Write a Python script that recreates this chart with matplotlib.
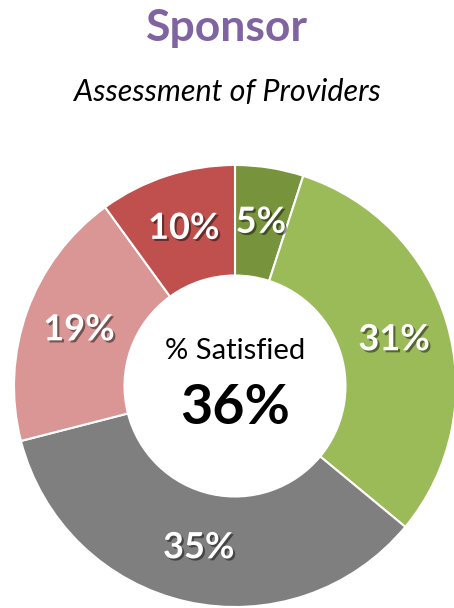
import matplotlib.pyplot as plt
import matplotlib.patheffects as pe

plt.rcParams['font.family'] = ['Lato', 'DejaVu Sans']

labels = ['Very satisfied', 'Satisfied', 'Neutral', 'Dissatisfied', 'Very dissatisfied']
values = [5, 31, 35, 19, 10]
colors = ['#77933C', '#9BBB59', '#7F7F7F', '#D99694', '#C0504D']
satisfied = 36

W, H = 454, 608
fig = plt.figure(figsize=(W / 100, H / 100), dpi=100)

# donut: centre (235, 386) px, radius 221 px
cx, cy, r = 235, 386, 221
ax = fig.add_axes([(cx - r) / W, (H - cy - r) / H, 2 * r / W, 2 * r / H])
wedges, texts, autotexts = ax.pie(
    values, colors=colors, startangle=90, counterclock=False,
    radius=1, autopct='%d%%', pctdistance=0.75,
    wedgeprops=dict(width=0.5, edgecolor='white', linewidth=1.5),
    textprops=dict(color='white', fontsize=26, fontweight='bold'))
for t in autotexts:
    t.set_path_effects([pe.withSimplePatchShadow(offset=(1.5, -1.5), shadow_rgbFace='black', alpha=0.45)])
ax.set_xlim(-1, 1)
ax.set_ylim(-1, 1)
ax.set_aspect('equal')
ax.axis('off')

ax.text(0, 0.16, '% Satisfied', ha='center', va='center', fontsize=21, color='black')
ax.text(0, -0.1, f'{satisfied}%', ha='center', va='center', fontsize=40, fontweight='bold', color='black')

fig.text(0.5, 1 - 28 / H, 'Sponsor', ha='center', va='center', fontsize=32, fontweight='bold', color='#8064A2')
fig.text(0.5, 1 - 92 / H, 'Assessment of Providers', ha='center', va='center', fontsize=22, style='italic', color='black')

fig.savefig('out.png', dpi=100)
